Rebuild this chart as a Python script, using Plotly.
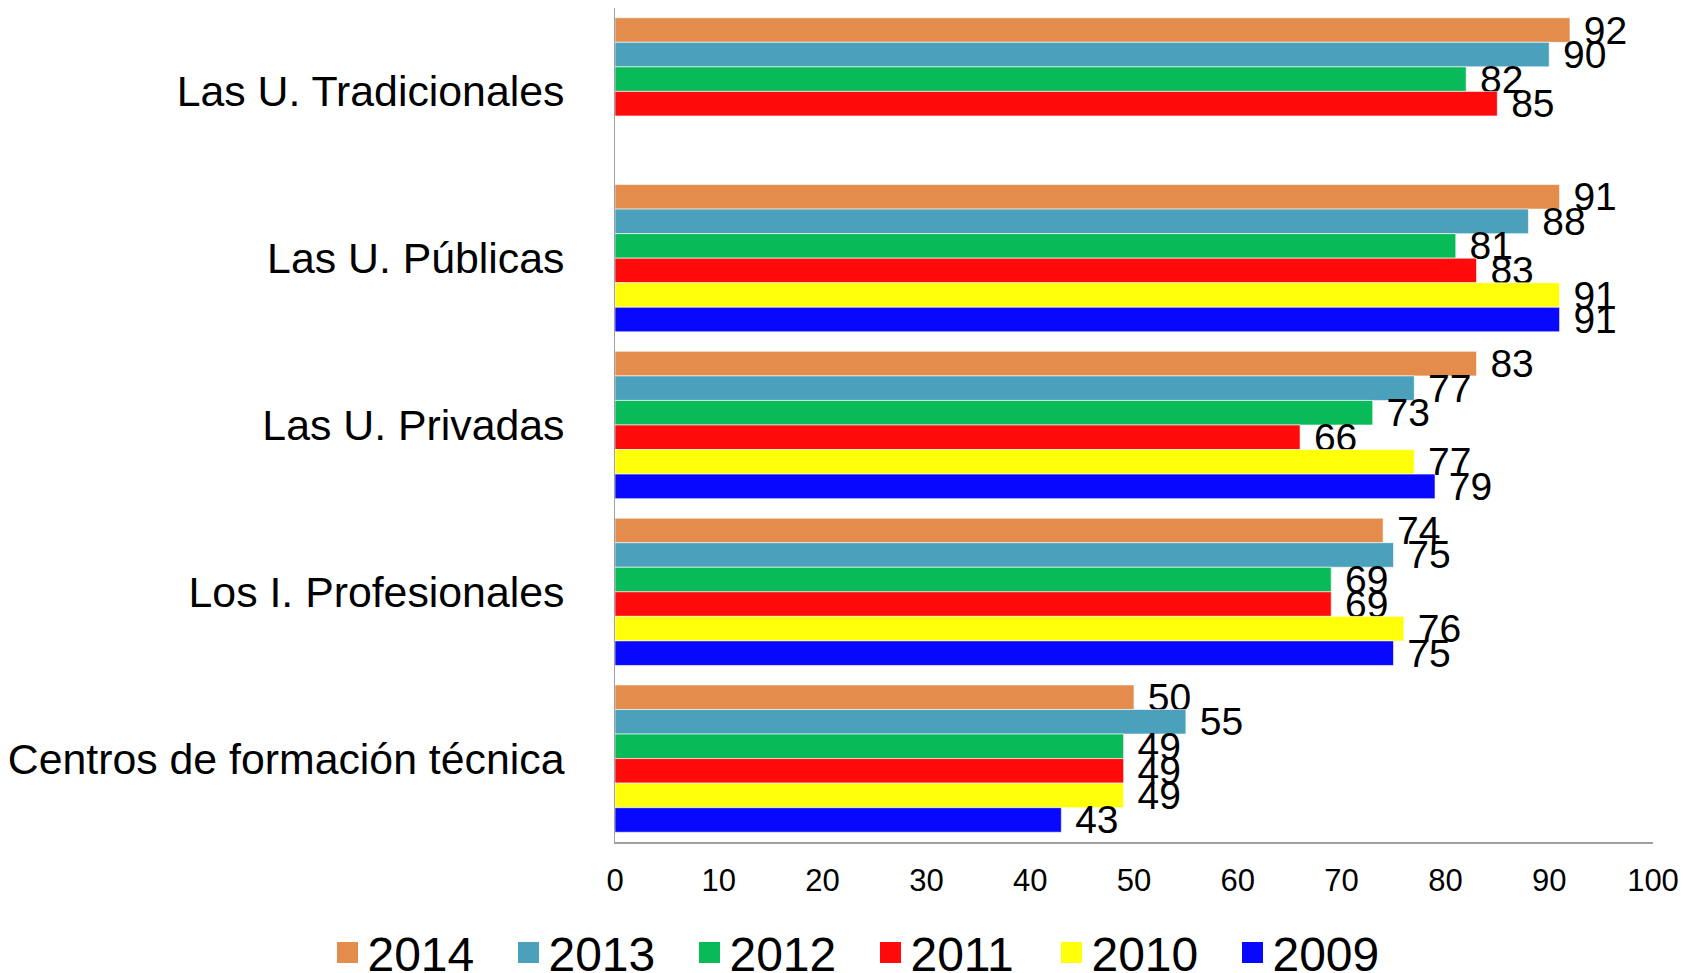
import plotly.graph_objects as go

categories = [
    "Las U. Tradicionales",
    "Las U. Públicas",
    "Las U. Privadas",
    "Los I. Profesionales",
    "Centros de formación técnica",
]
years = ["2014", "2013", "2012", "2011", "2010", "2009"]
v2014 = [92, 91, 83, 74, 50]
v2013 = [90, 88, 77, 75, 55]
v2012 = [82, 81, 73, 69, 49]
v2011 = [85, 83, 66, 69, 49]
v2010 = [None, 91, 77, 76, 49]
v2009 = [None, 91, 79, 75, 43]
series = [v2014, v2013, v2012, v2011, v2010, v2009]
colors = ["#E38C4B", "#4BA1BC", "#08BB58", "#FF0B0B", "#FFFF0A", "#0808FF"]
x_ticks = list(range(0, 101, 10))

FONT = "Liberation Sans, Arial, sans-serif"

fig = go.Figure()
for year, vals, col in zip(years, series, colors):
    fig.add_trace(go.Bar(
        y=categories,
        x=vals,
        orientation="h",
        name=year,
        marker=dict(color=col, line=dict(color="rgba(255,255,255,0.6)", width=1)),
        # leading space keeps the label a little off the bar end
        text=[("" if v is None else " " + str(v)) for v in vals],
        textposition="outside",
        constraintext="none",
        cliponaxis=False,
        textfont=dict(family=FONT, size=39, color="black"),
        showlegend=False,
    ))
    # legend entry with a bigger square swatch
    fig.add_trace(go.Scatter(
        x=[None], y=[None], mode="markers", name=year,
        marker=dict(symbol="square", size=16, color=col,
                    line=dict(color=col, width=5)),
        showlegend=True,
    ))

# the page body adds an 8px offset, margins below compensate for it
fig.update_layout(
    barmode="group",
    bargap=0.117,
    bargroupgap=0,
    width=1694,
    height=973,
    margin=dict(l=607, r=49, t=0, b=139, autoexpand=False),
    plot_bgcolor="white",
    paper_bgcolor="white",
    font=dict(family=FONT, color="black"),
    legend=dict(
        orientation="h",
        x=-0.277, xanchor="left",
        y=-0.133, yanchor="middle",
        font=dict(size=48, family=FONT),
        entrywidth=136,
        itemwidth=30,
    ),
)
fig.update_xaxes(
    range=[0, 100],
    tickvals=x_ticks,
    showgrid=False,
    zeroline=False,
    showline=True,
    linecolor="#A0A0A0",
    linewidth=2,
    ticks="",
    ticklabelstandoff=10,
    tickfont=dict(size=31, family=FONT),
)
fig.update_yaxes(
    autorange="reversed",
    showgrid=False,
    showline=True,
    linecolor="#A0A0A0",
    linewidth=1,
    ticks="",
    ticklabelstandoff=41,
    tickfont=dict(size=42.8, family=FONT),
)

fig.write_html("out.html")
